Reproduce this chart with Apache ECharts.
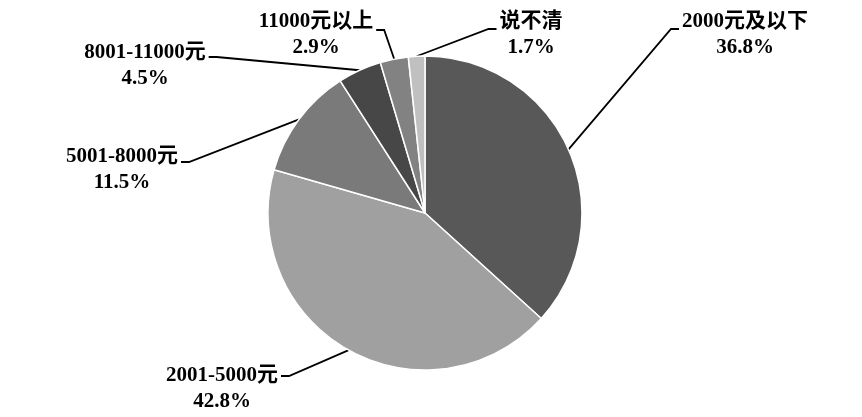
<!DOCTYPE html>
<html><head><meta charset="utf-8">
<script src="https://cdn.jsdelivr.net/npm/echarts@6/dist/echarts.min.js"></script>
<style>html,body{margin:0;padding:0;background:#fff}#c{width:862px;height:417px}</style>
</head><body><div id="c"></div>
<script>
var categories = ['2000元及以下', '2001-5000元', '5001-8000元', '8001-11000元', '11000元以上', '说不清'];
var values = [36.8, 42.8, 11.5, 4.5, 2.9, 1.7];
var colors = ['#585858', '#a0a0a0', '#7a7a7a', '#474747', '#828282', '#c0c0c0'];
// label centre positions (layout only)
var labelPos = [
  {x: 745, y: 35, side: 'r', dy: 7},
  {x: 222, y: 389, side: 'l', dy: 0},
  {x: 122, y: 170, side: 'l', dy: 5},
  {x: 145, y: 66, side: 'l', dy: 4},
  {x: 316, y: 35, side: 'l', dy: 8},
  {x: 531, y: 35, side: 'r', dy: 7}
];
var chart = echarts.init(document.getElementById('c'));
chart.setOption({
  backgroundColor: '#fff',
  animation: false,
  series: [{
    type: 'pie',
    center: [425, 213],
    radius: 157,
    startAngle: 90,
    clockwise: true,
    data: categories.map(function (n, i) { return {name: n, value: values[i], itemStyle: {color: colors[i]}}; }),
    itemStyle: {borderColor: '#fff', borderWidth: 1.5},
    label: {
      show: true,
      position: 'outside',
      formatter: function (p) { return p.name + '\n' + p.value.toFixed(1) + '%'; },
      fontFamily: '"Liberation Serif", "Noto Sans CJK SC", serif',
      fontWeight: 'bold',
      fontSize: 21,
      lineHeight: 26,
      color: '#000',
      align: 'center'
    },
    labelLine: {show: true, length: 20, length2: 10, lineStyle: {color: '#000', width: 1.8}},
    labelLayout: function (params) {
      var i = params.dataIndex;
      var lp = labelPos[i];
      var w = params.labelRect.width, h = params.labelRect.height;
      var top = lp.y - h / 2;
      var ly = top + 13 + lp.dy;
      var start = params.labelLinePoints[0];
      var endX, elbowX;
      if (lp.side === 'r') { endX = lp.x - w / 2 - 3; elbowX = endX - 8; }
      else { endX = lp.x + w / 2 + 3; elbowX = endX + 8; }
      return {
        x: lp.x, y: lp.y, align: 'center', verticalAlign: 'middle',
        labelLinePoints: [start, [elbowX, ly], [endX, ly]]
      };
    }
  }]
});
</script></body></html>
